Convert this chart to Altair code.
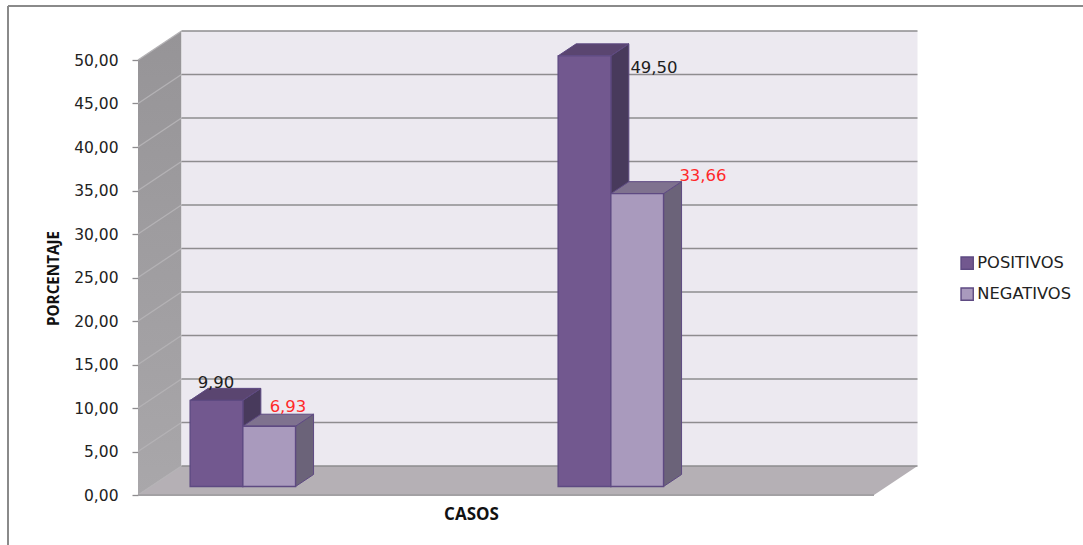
import altair as alt
import pandas as pd

# Chart values
groups = [0, 1]
series = ["POSITIVOS", "NEGATIVOS"]
positivos = [9.90, 49.50]
negativos = [6.93, 33.66]
y_ticks = [0, 5, 10, 15, 20, 25, 30, 35, 40, 45, 50]

# Oblique projection of the 3D box, in axis units (categories / percent)
PLOT_W, PLOT_H = 736, 435
PX_X = PLOT_W / 2
PX_Y = PLOT_H / 50
WALL_DX = 43.5 / PX_X
WALL_DY = 29 / PX_Y
BAR_START = 39.4 / PX_X
BAR_W = 52.7 / PX_X
BAR_D0, BAR_D1 = 0.293, 0.707


def px(c, depth=0.0):
    return c + depth * WALL_DX


def py(v, depth=0.0):
    return v + depth * WALL_DY


# Styles per series: front, side, top
style = {
    "POSITIVOS": ("#72588F", "#483A5C", "#5A4570"),
    "NEGATIVOS": ("#A99ABD", "#6B6379", "#7F728F"),
}
EDGE = "#5E4A82"

x_scale = alt.Scale(domain=[0, 2], nice=False, zero=False)
y_scale = alt.Scale(domain=[0, 50], nice=False, zero=False)
x_axis = alt.Axis(title="CASOS", orient="bottom", labels=False, ticks=False,
                  domain=False, grid=False, titleFont="Open Sans",
                  titleFontSize=17, titleFontWeight="bold", titleColor="#111111",
                  titleX=333, titleY=19, titleBaseline="middle")
y_axis = alt.Axis(title="PORCENTAJE", orient="left", values=y_ticks, grid=False,
                  domain=False, tickColor="#8E8C8F", tickSize=6, tickWidth=1.3,
                  labelExpr="replace(format(datum.value, '.2f'), '.', ',')",
                  labelFont="DejaVu Sans", labelFontSize=15.5, labelColor="#222222",
                  labelPadding=14, titleFont="Open Sans", titleFontSize=15.2,
                  titleFontWeight="bold", titleColor="#111111",
                  titleX=-84.5, titleY=218, titleBaseline="middle")
X = alt.X("x:Q", scale=x_scale, axis=x_axis)
Y = alt.Y("y:Q", scale=y_scale, axis=y_axis, stack=None)

# Walls and floor
side_wall = pd.DataFrame({"x": [px(0), px(0, 1)],
                          "y": [py(0), py(0, 1)],
                          "y2": [py(50), py(50, 1)]})
back_wall = pd.DataFrame({"x": [px(0, 1)], "x2": [px(2, 1)],
                          "y": [py(0, 1)], "y2": [py(50, 1)]})
floor = pd.DataFrame({"y": [py(0), py(0, 1)],
                      "x": [px(0), px(0, 1)],
                      "x2": [px(2), px(2, 1)]})

wall_layers = [
    alt.Chart(side_wall).mark_area(
        color=alt.LinearGradient(
            gradient="linear", x1=0, y1=0, x2=0, y2=1,
            stops=[alt.GradientStop(color="#969497", offset=0),
                   alt.GradientStop(color="#A9A7AA", offset=1)])
    ).encode(x=X, y=Y, y2="y2:Q"),
    alt.Chart(back_wall).mark_rect(color="#ECE9F0").encode(x=X, x2="x2:Q", y=Y, y2="y2:Q"),
    alt.Chart(floor).mark_area(orient="horizontal", color="#B5B0B5").encode(
        y=Y, x=X, x2="x2:Q"),
]

# Gridlines on the back wall and their continuation across the side wall
grid_back = pd.DataFrame({"x": [px(0, 1)] * len(y_ticks), "x2": [px(2, 1)] * len(y_ticks),
                          "y": [py(v, 1) for v in y_ticks]})
grid_side = pd.DataFrame({"x": [px(0)] * len(y_ticks), "x2": [px(0, 1)] * len(y_ticks),
                          "y": [py(v) for v in y_ticks], "y2": [py(v, 1) for v in y_ticks]})
grid_layers = [
    alt.Chart(grid_side).mark_rule(color="#B4B2B5", strokeWidth=1.3).encode(
        x=X, x2="x2:Q", y=Y, y2="y2:Q"),
    alt.Chart(grid_back).mark_rule(color="#8E8C8F", strokeWidth=1.7).encode(
        x=X, x2="x2:Q", y=Y),
]

# Front edge of the floor
front_edge = pd.DataFrame({"x": [px(0)], "x2": [px(2)], "y": [0.0]})
edge_layer = alt.Chart(front_edge).mark_rule(color="#A3A1A4", strokeWidth=2).encode(
    x=X, x2="x2:Q", y=Y)


def box_layers(name, values, offset):
    """Side, top and front faces of one series' bars, back to front."""
    front, side, top = style[name]
    x0 = [g + BAR_START + offset * BAR_W for g in groups]
    x1 = [x + BAR_W for x in x0]
    side_rows, top_rows = [], []
    for g, a, b, v in zip(groups, x0, x1, values):
        side_rows += [{"g": g, "x": px(b, BAR_D0), "y": py(v, BAR_D0), "y2": py(0, BAR_D0)},
                      {"g": g, "x": px(b, BAR_D1), "y": py(v, BAR_D1), "y2": py(0, BAR_D1)}]
        top_rows += [{"g": g, "y": py(v, BAR_D0), "x": px(a, BAR_D0), "x2": px(b, BAR_D0)},
                     {"g": g, "y": py(v, BAR_D1), "x": px(a, BAR_D1), "x2": px(b, BAR_D1)}]
    front_rows = pd.DataFrame({
        "serie": [name] * len(groups),
        "x": [px(a, BAR_D0) for a in x0], "x2": [px(b, BAR_D0) for b in x1],
        "y": [py(v, BAR_D0) for v in values], "y2": [py(0, BAR_D0)] * len(groups)})
    return [
        alt.Chart(pd.DataFrame(side_rows)).mark_area(
            color=side, stroke=EDGE, strokeWidth=1).encode(
            x=X, y=Y, y2="y2:Q", detail="g:N"),
        alt.Chart(pd.DataFrame(top_rows)).mark_area(
            orient="horizontal", color=top, stroke=EDGE, strokeWidth=1).encode(
            y=Y, x=X, x2="x2:Q", detail="g:N"),
        alt.Chart(front_rows).mark_rect(stroke=EDGE, strokeWidth=1.4).encode(
            x=X, x2="x2:Q", y=Y, y2="y2:Q",
            color=alt.Color(
                "serie:N",
                scale=alt.Scale(domain=series, range=[style[s][0] for s in series]),
                legend=alt.Legend(
                    title=None, orient="none", legendX=821, legendY=195, padding=0,
                    symbolType="square", symbolSize=150, symbolStrokeColor=EDGE,
                    symbolStrokeWidth=1.4, labelFont="DejaVu Sans", labelFontSize=16.3,
                    labelColor="#222222", labelOffset=2, rowPadding=12,
                    symbolOpacity=1)),
        ),
    ]


# Value labels, placed beside each box in the same coordinates
label_x = [216, 654, 288, 703]
label_y = [383, 68, 407, 176]
label_val = positivos + negativos
labels = pd.DataFrame({
    "x": [(v - 138) / PX_X for v in label_x],
    "y": [(495 - v) / PX_Y for v in label_y],
    "t": [f"{v:.2f}".replace(".", ",") for v in label_val],
    "c": ["#1E1E1E", "#1E1E1E", "#FF2A2A", "#FF2A2A"],
})
label_layer = alt.Chart(labels).mark_text(
    font="DejaVu Sans", fontSize=16.5, baseline="middle", align="center"
).encode(x=X, y=Y, text="t:N", color=alt.Color("c:N", scale=None))

# Thin outer frame running off the top and left edges
frame_layers = [
    alt.Chart(pd.DataFrame({"a": [0]})).mark_rule(color="#8A8A8A", strokeWidth=2).encode(
        x=alt.value(-130), y=alt.value(-54), y2=alt.value(490)),
    alt.Chart(pd.DataFrame({"a": [0]})).mark_rule(color="#8A8A8A", strokeWidth=2).encode(
        y=alt.value(-54), x=alt.value(-130), x2=alt.value(950)),
]

chart = alt.layer(
    *frame_layers, *wall_layers, *grid_layers, edge_layer,
    *box_layers("POSITIVOS", positivos, 0),
    *box_layers("NEGATIVOS", negativos, 1),
    label_layer,
).properties(
    width=PLOT_W, height=PLOT_H, background="white",
    autosize=alt.AutoSizeParams(type="none"),
    padding={"left": 138, "top": 60, "right": 209, "bottom": 50},
).configure_view(stroke=None)

chart.save("out.html", embed_options={"renderer": "svg", "actions": False})
